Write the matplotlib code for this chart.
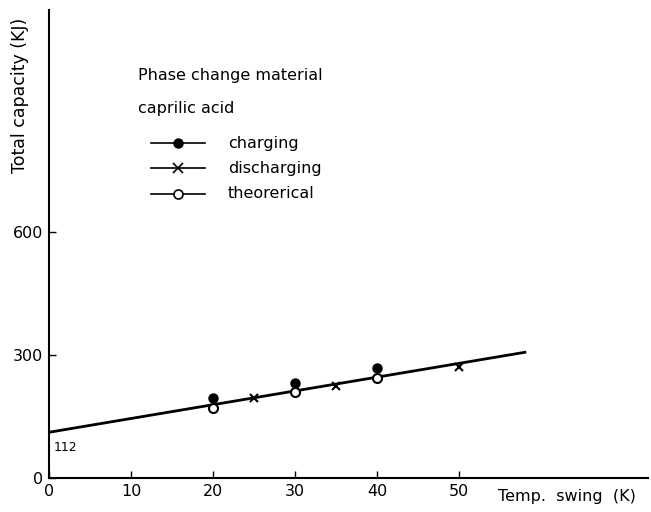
import numpy as np
import matplotlib.pyplot as plt

# --- Daten ---
charge_x = [20, 30, 40]
charge_y = [195, 232, 268]
discharge_x = [25, 35, 50]
discharge_y = [196, 226, 272]
theory_x = [20, 30, 40]
theory_y = [172, 210, 245]
fit_x = [0, 58]
fit_y = [112, 307]

xticks = [0, 10, 20, 30, 40, 50]
yticks = [0, 300, 600]

plt.rcParams['font.family'] = ['DejaVu Sans']

fig = plt.figure(figsize=(6.51, 5.12), dpi=100)
ax = fig.add_axes([0.0753, 0.066, 0.92, 0.914])

ax.plot(fit_x, fit_y, color='black', lw=2)
ax.plot(charge_x, charge_y, 'o', color='black', ms=6.5)
ax.plot(discharge_x, discharge_y, 'x', color='black', ms=6, mew=1.5)
ax.plot(theory_x, theory_y, 'o', mfc='white', mec='black', ms=6.5, mew=1.5)

ax.set_xlim(0, 73)
ax.set_ylim(0, 1141)
ax.set_xticks(xticks)
ax.set_yticks(yticks)
ax.tick_params(direction='in', length=5, width=1, labelsize=11.5, pad=4)
for s in ['top', 'right']:
    ax.spines[s].set_visible(False)
for s in ['left', 'bottom']:
    ax.spines[s].set_linewidth(1.5)

ax.text(-0.048, 0.985, 'Total capacity (KJ)', transform=ax.transAxes, rotation=90,
        ha='center', va='top', fontsize=12.5)
ax.text(0.75, -0.022, 'Temp.  swing  (K)', transform=ax.transAxes,
        ha='left', va='top', fontsize=11.5)
ax.text(0.6, 90, '112', fontsize=9, va='top')

ax.text(0.149, 0.861, 'Phase change material', transform=ax.transAxes, fontsize=11.5, va='center')
ax.text(0.149, 0.79, 'caprilic acid', transform=ax.transAxes, fontsize=11.5, va='center')

# Legende von Hand
labels = ['charging', 'discharging', 'theorerical']
styles = [dict(marker='o', mfc='black', mec='black'),
          dict(marker='x', mec='black', mew=1.2),
          dict(marker='o', mfc='white', mec='black', mew=1.2)]
for i, (lab, st) in enumerate(zip(labels, styles)):
    yy = 0.716 - i * 0.054
    ax.plot([0.17, 0.26], [yy, yy], transform=ax.transAxes, color='black', lw=1.2)
    ax.plot([0.215], [yy], transform=ax.transAxes, ms=6.5, ls='none', **st)
    ax.text(0.299, yy, lab, transform=ax.transAxes, fontsize=11.5, va='center')

plt.savefig('out.png', dpi=100)
